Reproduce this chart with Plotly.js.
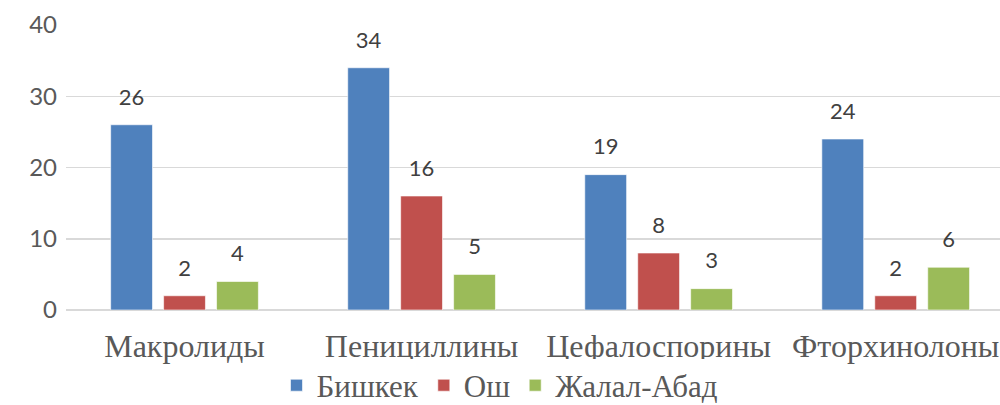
<!DOCTYPE html>
<html>
<head>
<meta charset="utf-8">
<script src="https://cdn.plot.ly/plotly-3.0.1.min.js"></script>
<style>
  html, body { margin: 0; padding: 0; background: #fff; overflow: hidden; }
  #plotDiv { width: 1000px; height: 405px; }
</style>
</head>
<body>
<div id="plotDiv"></div>
<script>
let categories = ['Макролиды', 'Пенициллины', 'Цефалоспорины', 'Фторхинолоны'];
let bishkek = [26, 34, 19, 24];
let osh = [2, 16, 8, 2];
let jalalAbad = [4, 5, 3, 6];

let seriesNames = ['Бишкек', 'Ош', 'Жалал-Абад'];
let seriesValues = [bishkek, osh, jalalAbad];
let colors = ['#4F81BD', '#C0504D', '#9BBB59'];

let gap = 0.33;

let bars = seriesValues.map((vals, i) => ({
  type: 'bar',
  name: seriesNames[i],
  x: categories,
  y: vals,
  marker: { color: colors[i], line: { color: 'rgba(255,255,255,0.6)', width: 1 } },
  hoverinfo: 'skip',
}));

// value labels as grouped scatter text so they sit a bit higher than bar text
let labels = seriesValues.map((vals, i) => ({
  type: 'scatter',
  mode: 'markers+text',
  x: categories,
  y: vals,
  text: vals.map(String),
  textposition: 'top center',
  textfont: { family: 'Lato', size: 22, color: '#404040' },
  marker: { size: 22, opacity: 0 },
  showlegend: false,
  hoverinfo: 'skip',
  cliponaxis: false,
}));

let layout = {
  width: 1000,
  height: 405,
  margin: { l: 66, r: 0, t: 25, b: 95 },
  paper_bgcolor: '#fff',
  plot_bgcolor: '#fff',
  barmode: 'group',
  bargap: gap,
  bargroupgap: 0.21,
  scattermode: 'group',
  scattergap: gap,
  showlegend: true,
  legend: {
    orientation: 'h',
    xref: 'container',
    yref: 'container',
    x: 0.5,
    xanchor: 'center',
    y: 0.048,
    yanchor: 'middle',
    font: { family: 'Liberation Serif', size: 31, color: '#595959' },
    itemwidth: 30,
    tracegroupgap: 0,
  },
  xaxis: {
    range: [-0.5, 3.44],
    showgrid: false,
    showline: false,
    zeroline: false,
    ticks: '',
    tickfont: { family: 'Liberation Serif', size: 32, color: '#595959' },
    ticklabelstandoff: 14,
    automargin: false,
  },
  yaxis: {
    range: [0, 40],
    tickvals: [0, 10, 20, 30, 40],
    showgrid: true,
    gridcolor: '#D9D9D9',
    gridwidth: 1.5,
    zeroline: true,
    zerolinecolor: '#D9D9D9',
    zerolinewidth: 1.5,
    showline: false,
    ticks: '',
    tickfont: { family: 'Lato', size: 24, color: '#595959' },
    ticklabelstandoff: 8,
    automargin: false,
  },
};

Plotly.newPlot('plotDiv', [...bars, ...labels], layout, { staticPlot: true });
</script>
</body>
</html>
